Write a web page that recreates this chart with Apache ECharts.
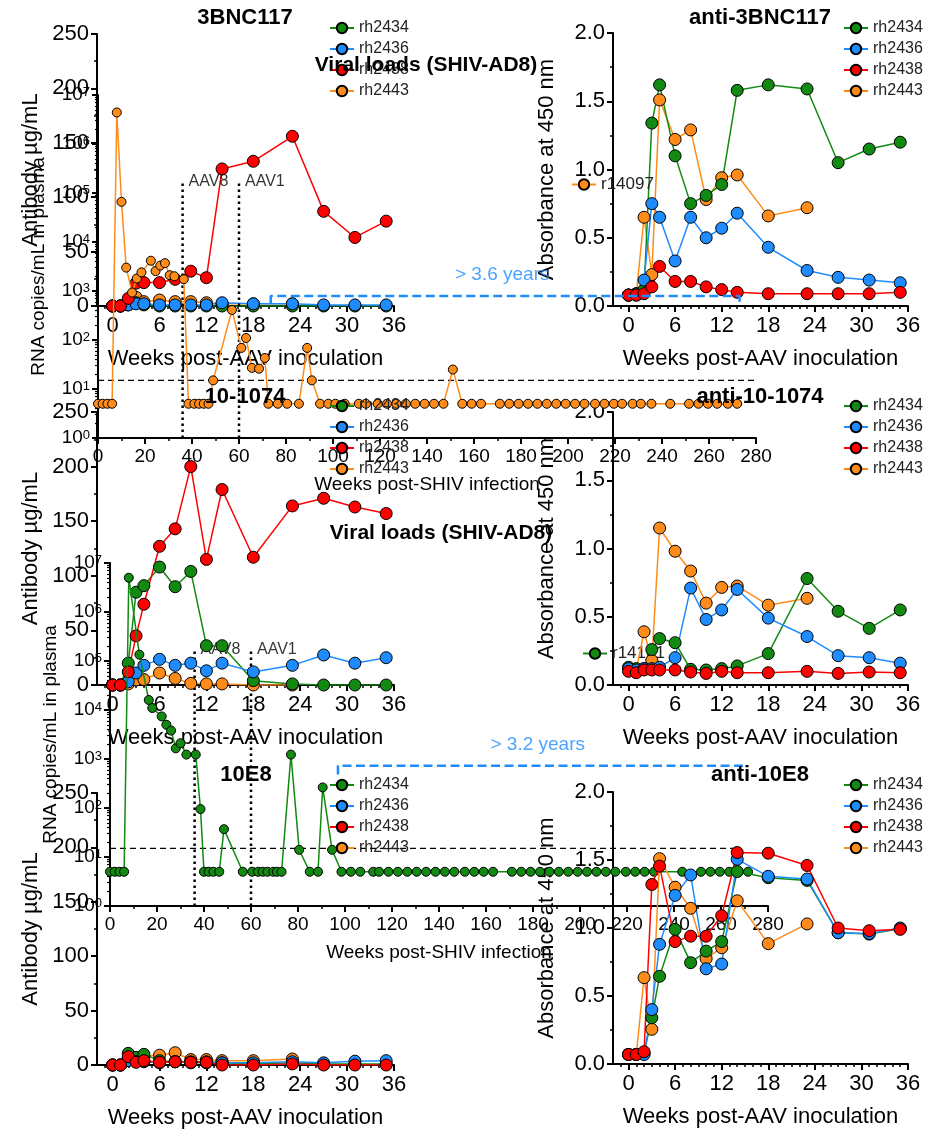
<!DOCTYPE html>
<html>
<head>
<meta charset="utf-8">
<script src="https://cdn.jsdelivr.net/npm/echarts@6/dist/echarts.min.js"></script>
<style>
  html, body { margin: 0; padding: 0; background: #fff; }
  #chart { width: 948px; height: 1130px; }
</style>
</head>
<body>
<div id="chart"></div>
<script>
const FONT = '"Liberation Sans", Arial, Helvetica, sans-serif'
const GREEN = '#128a12'
const BLUE = '#1e8cff'
const RED = '#ff0000'
const ORANGE = '#ff8c1a'

// animals (order of the legends)
const animals = ['rh2434', 'rh2436', 'rh2438', 'rh2443']
const animalColors = [GREEN, BLUE, RED, ORANGE]

// sampling weeks after AAV inoculation (rh2443 stops at week 23)
const weeksAAV = [0, 1, 2, 3, 4, 6, 8, 10, 12, 14, 18, 23, 27, 31, 35]
const weekTicks = [0, 6, 12, 18, 24, 30, 36]

// antibody µg/mL : 3BNC117
const ab3bnc_rh2434 = [0, 0, 1, 3, 1, 0, 0, 0, 0, 0, 0, 0, 0, 0, 0]
const ab3bnc_rh2436 = [0, 0, 1, 2, 2, 1, 1, 1, 1, 3, 2, 2, 1, 1, 1]
const ab3bnc_rh2438 = [0, 0, 7, 21, 21.5, 21.5, 24.5, 32, 26, 126, 133, 156, 87, 63, 78]
const ab3bnc_rh2443 = [0, 0, 2, 8, 4, 5.5, 4, 4, 3, 2, 2, 2]
// antibody µg/mL : 10-1074
const ab1074_rh2434 = [0, 0, 20, 85, 91, 108, 90, 104, 36, 36, 4, 1, 0, 0, 0]
const ab1074_rh2436 = [0, 0, 3, 11, 18, 23.5, 18, 20, 13, 20, 12, 18, 27.5, 20, 25]
const ab1074_rh2438 = [0, 0, 12, 45, 74, 127, 143, 200, 115, 179, 117, 164, 171, 163, 157]
const ab1074_rh2443 = [0, 0, 1, 4.6, 5, 11, 6, 1.5, 1, 1, 0, 0]
// antibody µg/mL : 10E8
const ab10e8_rh2434 = [0, 0, 10.7, 7, 9.8, 4, 3, 3, 3, 2, 1, 2, 1, 1, 1]
const ab10e8_rh2436 = [0, 0, 4, 3, 3, 2, 3, 2, 2, 2, 2, 3, 2, 3.5, 4]
const ab10e8_rh2438 = [0, 0, 7.6, 2.5, 4, 2.5, 3, 2.5, 2.5, 0, 0, 1, 0, 0, 0]
const ab10e8_rh2443 = [0, 0, 6, 6, 8, 9, 11.3, 5, 5, 4, 4, 5.5]

// absorbance at 450 nm : anti-3BNC117
const anti3bnc_rh2434 = [0.08, 0.09, 0.12, 1.34, 1.62, 1.10, 0.75, 0.81, 0.89, 1.58, 1.62, 1.59, 1.05, 1.15, 1.20]
const anti3bnc_rh2436 = [0.08, 0.08, 0.19, 0.75, 0.65, 0.33, 0.65, 0.50, 0.57, 0.68, 0.43, 0.26, 0.21, 0.19, 0.17]
const anti3bnc_rh2438 = [0.08, 0.08, 0.09, 0.14, 0.29, 0.18, 0.18, 0.14, 0.12, 0.10, 0.09, 0.09, 0.09, 0.09, 0.10]
const anti3bnc_rh2443 = [0.08, 0.09, 0.65, 0.23, 1.51, 1.22, 1.29, 0.78, 0.94, 0.96, 0.66, 0.72]
// absorbance at 450 nm : anti-10-1074
const anti1074_rh2434 = [0.13, 0.12, 0.12, 0.26, 0.34, 0.31, 0.115, 0.11, 0.12, 0.14, 0.23, 0.78, 0.54, 0.415, 0.55]
const anti1074_rh2436 = [0.12, 0.11, 0.12, 0.12, 0.13, 0.20, 0.71, 0.48, 0.55, 0.70, 0.49, 0.355, 0.215, 0.20, 0.16]
const anti1074_rh2438 = [0.10, 0.09, 0.11, 0.11, 0.11, 0.11, 0.095, 0.085, 0.10, 0.09, 0.09, 0.10, 0.085, 0.095, 0.09]
const anti1074_rh2443 = [0.12, 0.11, 0.39, 0.18, 1.15, 0.98, 0.835, 0.60, 0.715, 0.725, 0.585, 0.635]
// absorbance at 450 nm : anti-10E8
const anti10e8_rh2434 = [0.07, 0.07, 0.08, 0.34, 0.645, 0.99, 0.745, 0.83, 0.90, 1.415, 1.37, 1.35, 0.965, 0.955, 0.995]
const anti10e8_rh2436 = [0.07, 0.07, 0.07, 0.40, 0.88, 1.24, 1.39, 0.70, 0.735, 1.505, 1.38, 1.36, 0.965, 0.96, 1.0]
const anti10e8_rh2438 = [0.07, 0.07, 0.09, 1.32, 1.455, 0.90, 0.94, 0.94, 1.09, 1.555, 1.55, 1.46, 1.0, 0.98, 0.99]
const anti10e8_rh2443 = [0.07, 0.07, 0.635, 0.255, 1.51, 1.30, 1.145, 0.775, 0.855, 1.20, 0.885, 1.03]

// viral loads (RNA copies/mL) vs weeks post-SHIV infection
const viral1Name = 'r14097'
const viral1Weeks = [0, 2, 4, 6, 8, 10, 12, 14.5, 16.5, 18.5, 22.5, 24.5, 26.5, 28.5, 30.5, 32.5, 36.5,
  38.5, 41, 43, 45, 47, 49, 57, 61, 63, 65.5, 68.5, 71, 72.5, 76.5, 80.5, 85.5, 89, 91, 94.5,
  98, 101, 105, 111, 114, 119, 123, 127, 131, 135, 139, 143, 147, 151, 155, 159, 163,
  171, 175, 179, 183, 187, 191, 195, 199, 203, 207, 211.5, 215.5, 219.5, 223, 227.5, 231, 235.5,
  243.5, 251.5, 255.5, 259.5, 263.5, 268, 272]
const viral1Copies = [5, 5, 5, 5, 4.4e6, 6.6e4, 3000, 930, 1800, 2400, 4150, 2550, 3300, 3700, 2100, 2000, 1740,
  5, 5, 5, 5, 5, 15, 410, 69, 110, 27, 26, 43, 5, 5, 5, 5, 69, 15, 5,
  5, 5, 5, 5, 5, 5, 5, 5, 5, 5, 5, 5, 5, 25, 5, 5, 5,
  5, 5, 5, 5, 5, 5, 5, 5, 5, 5, 5, 5, 5, 5, 5, 5, 5,
  5, 5, 5, 5, 5, 5, 5]
const viral2Name = 'r14101'
const viral2Weeks = [0, 2, 4, 6, 8, 12.5, 16.5, 18, 22, 24, 26, 28, 30, 32.5, 36.5,
  38.5, 40, 42, 44, 46.5, 48.5, 56.5, 60.5, 63, 65, 67, 69.5, 71, 73, 77, 80.5, 85, 88.5, 90.5, 94.5,
  98.5, 102.5, 106.5, 112, 114.5, 118.5, 122.5, 126.5, 130.5, 134.5, 138.5, 142.5, 146.5, 151, 155, 159, 163,
  171, 175, 179, 183, 187, 191, 195, 199, 203, 207, 211, 215, 219.5, 223.5, 227.5, 231.5,
  243.5, 251.5, 255.5, 259.5, 263.5, 267.5, 271.5]
const viral2Copies = [5, 5, 5, 5, 5e6, 1.35e5, 1.6e4, 1.1e4, 7400, 5000, 3800, 1650, 2100, 1230, 1230,
  95, 5, 5, 5, 5, 37, 5, 5, 5, 5, 5, 5, 5, 5, 1230, 14, 5, 5, 263, 14,
  5, 5, 5, 5, 5, 5, 5, 5, 5, 5, 5, 5, 5, 5, 5, 5, 5,
  5, 5, 5, 5, 5, 5, 5, 5, 5, 5, 5, 5, 5, 5, 5, 5,
  5, 5, 5, 5, 5, 5, 5]

// annotations of the viral load panels
const lodCopies = 15
const aavWeeks = [36, 60]
const aavLabels = ['AAV8', 'AAV1']
const aavTop = 1.7e5
const span1 = { from: 73.5, to: 273, level: 790, tick: 570, text: '> 3.6 years', textWeek: 172, textLevel: 2100 }
const span2 = { from: 97, to: 270, level: 730, tick: 480, text: '> 3.2 years', textWeek: 182, textLevel: 1960 }

const chart = echarts.init(document.getElementById('chart'), null, { renderer: 'canvas' })

const axisLine = { show: true, onZero: false, lineStyle: { color: '#000', width: 2 } }
const tickStyle = { color: '#000', width: 2 }
const minorWeeks = []
for (let w = -1; w <= 36; w++) if (w % 6 !== 0) minorWeeks.push(w)
const minorLog = []
for (let n = 0; n < 7; n++) for (let k = 2; k <= 9; k++) minorLog.push(k * Math.pow(10, n))

const grids = [
  { left: 97, top: 34, width: 297, height: 272 },   // 3BNC117
  { left: 613, top: 33, width: 295, height: 273 },  // anti-3BNC117
  { left: 98, top: 95, width: 658, height: 343 },   // viral r14097
  { left: 97, top: 412, width: 297, height: 273 },  // 10-1074
  { left: 613, top: 412, width: 295, height: 273 }, // anti-10-1074
  { left: 110, top: 563, width: 658, height: 343 }, // viral r14101
  { left: 97, top: 793, width: 297, height: 272 },  // 10E8
  { left: 613, top: 792, width: 295, height: 272 }  // anti-10E8
].map(g => Object.assign({ outerBoundsMode: 'none', containLabel: false }, g))

function weekAxis(g) {
  return {
    type: 'value', gridIndex: g, min: -2, max: 36, position: 'bottom',
    axisLine,
    axisTick: { show: true, customValues: weekTicks, length: 6, lineStyle: tickStyle },
    axisLabel: { customValues: weekTicks, margin: 9, fontSize: 22, color: '#000', fontFamily: FONT },
    splitLine: { show: false },
    name: 'Weeks post-AAV inoculation', nameLocation: 'middle', nameGap: 42,
    nameTextStyle: { fontSize: 22, color: '#000', fontFamily: FONT }
  }
}
function weekMinorAxis(g) {
  return {
    type: 'value', gridIndex: g, min: -2, max: 36, position: 'bottom',
    axisLine: { show: false },
    axisTick: { show: true, customValues: minorWeeks, length: 3, lineStyle: { color: '#000', width: 1.5 } },
    axisLabel: { show: false },
    splitLine: { show: false }
  }
}
function shivAxis(g) {
  return {
    type: 'value', gridIndex: g, min: 0, max: 280, interval: 20, position: 'bottom',
    axisLine,
    axisTick: { show: true, length: 6, lineStyle: tickStyle },
    minorTick: { show: true, splitNumber: 2, length: 3, lineStyle: { color: '#000', width: 1.5 } },
    axisLabel: { margin: 9, fontSize: 19, color: '#000', fontFamily: FONT },
    splitLine: { show: false },
    name: 'Weeks post-SHIV infection', nameLocation: 'middle', nameGap: 37,
    nameTextStyle: { fontSize: 19, color: '#000', fontFamily: FONT }
  }
}
function antibodyAxis(g) {
  return {
    type: 'value', gridIndex: g, min: 0, max: 250, interval: 50, position: 'left',
    axisLine,
    axisTick: { show: true, length: 6, lineStyle: tickStyle },
    minorTick: { show: true, splitNumber: 2, length: 3, lineStyle: { color: '#000', width: 1.5 } },
    axisLabel: { margin: 8, fontSize: 22, color: '#000', fontFamily: FONT },
    splitLine: { show: false },
    name: 'Antibody µg/mL', nameLocation: 'middle', nameRotate: 90, nameGap: 55,
    nameTextStyle: { fontSize: 22, color: '#000', fontFamily: FONT }
  }
}
function absorbanceAxis(g) {
  return {
    type: 'value', gridIndex: g, min: 0, max: 2, interval: 0.5, position: 'left',
    axisLine,
    axisTick: { show: true, length: 6, lineStyle: tickStyle },
    minorTick: { show: true, splitNumber: 2, length: 3, lineStyle: { color: '#000', width: 1.5 } },
    axisLabel: { margin: 8, fontSize: 22, color: '#000', fontFamily: FONT, formatter: v => v.toFixed(1) },
    splitLine: { show: false },
    name: 'Absorbance at 450 nm', nameLocation: 'middle', nameRotate: 90, nameGap: 55,
    nameTextStyle: { fontSize: 22, color: '#000', fontFamily: FONT }
  }
}
function copiesAxis(g) {
  return {
    type: 'log', logBase: 10, gridIndex: g, min: 1, max: 1e7, splitNumber: 7, position: 'left',
    axisLine,
    axisTick: { show: true, length: 6, lineStyle: tickStyle },
    axisLabel: {
      margin: 8, color: '#000', fontFamily: FONT,
      formatter: v => '{b|10}{s|' + Math.round(Math.log10(v)) + '}',
      rich: {
        b: { fontSize: 19, fontFamily: FONT, color: '#000' },
        s: { fontSize: 13, fontFamily: FONT, color: '#000', verticalAlign: 'top' }
      }
    },
    splitLine: { show: false },
    name: 'RNA copies/mL in plasma', nameLocation: 'middle', nameRotate: 90, nameGap: 50,
    nameTextStyle: { fontSize: 19, color: '#000', fontFamily: FONT }
  }
}
function copiesMinorAxis(g) {
  return {
    type: 'log', logBase: 10, gridIndex: g, min: 1, max: 1e7, position: 'left',
    axisLine: { show: false },
    axisTick: { show: true, customValues: minorLog, length: 3, lineStyle: { color: '#000', width: 1.2 } },
    axisLabel: { show: false },
    splitLine: { show: false }
  }
}

const xAxis = [
  weekAxis(0), weekAxis(1), shivAxis(2), weekAxis(3), weekAxis(4), shivAxis(5), weekAxis(6), weekAxis(7),
  weekMinorAxis(0), weekMinorAxis(1), weekMinorAxis(3), weekMinorAxis(4), weekMinorAxis(6), weekMinorAxis(7)
]
const yAxis = [
  antibodyAxis(0), absorbanceAxis(1), copiesAxis(2), antibodyAxis(3), absorbanceAxis(4), copiesAxis(5),
  antibodyAxis(6), absorbanceAxis(7), copiesMinorAxis(2), copiesMinorAxis(5)
]

function pointSeries(name, color, axis, weeks, values, size, z) {
  return {
    type: 'line', name, xAxisIndex: axis, yAxisIndex: axis,
    data: values.map((v, i) => [weeks[i], v]),
    symbol: 'circle', symbolSize: size, showAllSymbol: true,
    lineStyle: { color, width: 1.5 },
    itemStyle: { color, borderColor: '#000', borderWidth: 1 },
    z
  }
}

// panels of four animals: grid/axis index + values in animal order
const animalPanels = [
  { axis: 0, values: [ab3bnc_rh2434, ab3bnc_rh2436, ab3bnc_rh2438, ab3bnc_rh2443], z: 2 },
  { axis: 1, values: [anti3bnc_rh2434, anti3bnc_rh2436, anti3bnc_rh2438, anti3bnc_rh2443], z: 2 },
  { axis: 3, values: [ab1074_rh2434, ab1074_rh2436, ab1074_rh2438, ab1074_rh2443], z: 4 },
  { axis: 4, values: [anti1074_rh2434, anti1074_rh2436, anti1074_rh2438, anti1074_rh2443], z: 4 },
  { axis: 6, values: [ab10e8_rh2434, ab10e8_rh2436, ab10e8_rh2438, ab10e8_rh2443], z: 6 },
  { axis: 7, values: [anti10e8_rh2434, anti10e8_rh2436, anti10e8_rh2438, anti10e8_rh2443], z: 6 }
]

const series = []
animalPanels.forEach(p => {
  // drawing order: rh2443 below, then rh2434, rh2436, rh2438 on top
  ;[3, 0, 1, 2].forEach(i => {
    series.push(pointSeries(animals[i], animalColors[i], p.axis, weeksAAV, p.values[i], 12, p.z))
  })
})

function viralAnnotations(axis, span, lodEnd, rightTick) {
  const out = []
  out.push({
    type: 'line', name: 'lod', xAxisIndex: axis, yAxisIndex: axis, silent: true,
    data: [[0, lodCopies], [lodEnd, lodCopies]], symbol: 'none',
    lineStyle: { color: '#000', width: 1.3, type: [6, 4] }, z: 3
  })
  aavWeeks.forEach((w, i) => {
    out.push({
      type: 'line', name: 'aav', xAxisIndex: axis, yAxisIndex: axis, silent: true,
      data: [[w, 1], [w, aavTop]], symbol: 'none',
      lineStyle: { color: '#000', width: 2.5, type: [2.5, 3.5] }, z: 3
    })
    out.push({
      type: 'scatter', name: 'aavLabel', xAxisIndex: axis, yAxisIndex: axis, silent: true,
      data: [[w, aavTop]], symbolSize: 0,
      label: { show: true, position: 'right', distance: 6, formatter: aavLabels[i], fontSize: 16, color: '#000', fontFamily: FONT },
      z: 3
    })
  })
  const bracket = [[span.from, span.tick], [span.from, span.level], [span.to, span.level]]
  if (rightTick) bracket.push([span.to, span.tick])
  out.push({
    type: 'line', name: 'span', xAxisIndex: axis, yAxisIndex: axis, silent: true,
    data: bracket, symbol: 'none',
    lineStyle: { color: BLUE, width: 2.5, type: [9, 4.5] }, z: 3
  })
  out.push({
    type: 'scatter', name: 'spanLabel', xAxisIndex: axis, yAxisIndex: axis, silent: true,
    data: [[span.textWeek, span.textLevel]], symbolSize: 0,
    label: { show: true, position: 'inside', formatter: span.text, fontSize: 19, color: BLUE, fontFamily: FONT },
    z: 3
  })
  return out
}

series.push(...viralAnnotations(2, span1, 280, true))
series.push(pointSeries(viral1Name, ORANGE, 2, viral1Weeks, viral1Copies, 9, 3))
series.push(...viralAnnotations(5, span2, 268, false))
series.push(pointSeries(viral2Name, GREEN, 5, viral2Weeks, viral2Copies, 9, 5))

function animalLegend(left, top) {
  return {
    data: animals, left, top, orient: 'vertical', itemWidth: 24, itemHeight: 13, itemGap: 5,
    selectedMode: false, textStyle: { fontSize: 16, color: '#222', fontFamily: FONT }, padding: 0
  }
}
const legend = [
  animalLegend(329, 20), animalLegend(843, 20),
  animalLegend(329, 398), animalLegend(843, 398),
  animalLegend(329, 777), animalLegend(843, 777),
  { data: [viral1Name], left: 571, top: 176, itemWidth: 24, itemHeight: 13, selectedMode: false, padding: 0,
    textStyle: { fontSize: 17, color: '#222', fontFamily: FONT } },
  { data: [viral2Name], left: 582, top: 645, itemWidth: 24, itemHeight: 13, selectedMode: false, padding: 0,
    textStyle: { fontSize: 17, color: '#222', fontFamily: FONT } }
]

function title(text, x, y, size) {
  return {
    type: 'text', x, y, z: 100,
    style: { text, fill: '#000', font: 'bold ' + size + 'px ' + FONT, textAlign: 'center', textVerticalAlign: 'middle' }
  }
}

chart.setOption({
  animation: false,
  backgroundColor: '#fff',
  grid: grids,
  xAxis,
  yAxis,
  legend,
  series,
  graphic: [
    title('3BNC117', 245, 18, 22),
    title('anti-3BNC117', 760, 18, 22),
    title('10-1074', 245, 397, 22),
    title('anti-10-1074', 760, 397, 22),
    title('10E8', 246, 775, 22),
    title('anti-10E8', 760, 775, 22),
    title('Viral loads (SHIV-AD8)', 426, 65, 21),
    title('Viral loads (SHIV-AD8)', 441, 533, 21)
  ]
})
</script>
</body>
</html>
